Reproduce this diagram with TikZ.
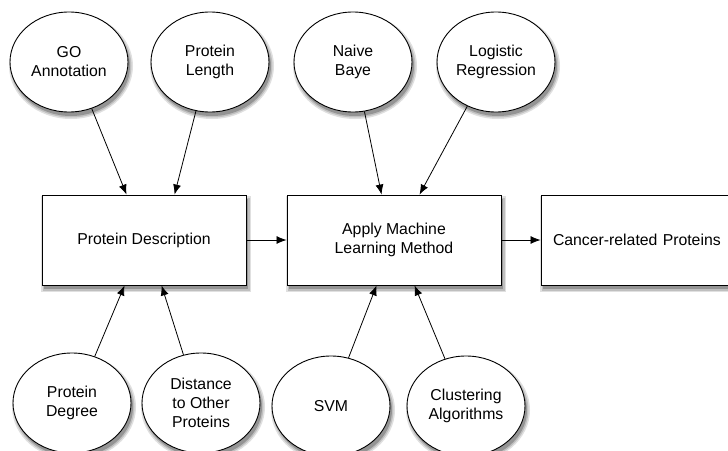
\documentclass[tikz,border=0pt]{standalone}
\usepackage{fontspec}
\setmainfont{Liberation Sans}
\usetikzlibrary{arrows.meta,shapes.geometric}
\definecolor{shA}{gray}{0.88}
\definecolor{shB}{gray}{0.75}
\definecolor{shC}{gray}{0.58}
\newcommand\ovalshade[2]{%
  \fill[shA] (#1+2,#2-4) ellipse (62 and 53);
  \fill[shB] (#1+2,#2-4) ellipse (60.5 and 51.5);
  \fill[shC] (#1+2,#2-4) ellipse (59 and 50);}
\newcommand\boxshade[4]{%
  \fill[shA] (#1-1,#2-7) rectangle (#3+5,#4-1);
  \fill[shB] (#1+0.5,#2-5.5) rectangle (#3+3.5,#4-2.5);
  \fill[shC] (#1+2,#2-4) rectangle (#3+2,#4-4);}
\begin{document}
\begin{tikzpicture}[x=1pt,y=1pt,
  lbl/.style={font=\fontsize{15.8}{19}\selectfont, align=center, text=black},
  oval/.style={lbl, ellipse, draw=black, line width=0.9pt, fill=white, minimum width=118pt, minimum height=100pt, inner sep=0pt},
  boxnode/.style={lbl, rectangle, draw=black, line width=0.9pt, fill=white, minimum height=90pt, inner sep=0pt},
  link/.style={line width=0.8pt, -{Latex[length=10pt,width=8pt]}}
]
\useasboundingbox (0,0) rectangle (728,-450);
\fill[white] (0,0) rectangle (728,-450);

\ovalshade{69}{-62}\ovalshade{210}{-62}\ovalshade{353}{-62}\ovalshade{496}{-62}
\ovalshade{72}{-403}\ovalshade{201}{-403}\ovalshade{331}{-406}\ovalshade{466}{-406}
\boxshade{42}{-285}{246}{-195}
\boxshade{287}{-285}{501}{-195}
\boxshade{541}{-285}{753}{-195}

\node[oval] (go) at (69,-62) {GO\\Annotation};
\node[oval] (len) at (210,-62) {Protein\\Length};
\node[oval] (nb) at (353,-62) {Naive\\Baye};
\node[oval] (lr) at (496,-62) {Logistic\\Regression};

\node[boxnode, minimum width=204pt] (pd) at (144,-240) {Protein Description};
\node[boxnode, minimum width=214pt] (ml) at (394,-240) {Apply Machine\\Learning Method};
\node[boxnode, minimum width=212pt, text width=188pt, align=left] (cp) at (647,-240) {Cancer-related Proteins};

\node[oval] (deg) at (72,-403) {Protein\\Degree};
\node[oval] (dist) at (201,-403) {Distance\\to Other\\Proteins};
\node[oval] (svm) at (331,-406) {SVM};
\node[oval] (cl) at (466,-406) {Clustering\\Algorithms};

\draw[link] (go.-64) -- ([xshift=85pt]pd.north west);
\draw[link] (len.-106) -- ([xshift=133pt]pd.north west);
\draw[link] (nb.-77) -- ([xshift=95pt]ml.north west);
\draw[link] (lr.-123) -- ([xshift=133pt]ml.north west);
\draw[link] (deg.64) -- ([xshift=83pt]pd.south west);
\draw[link] (dist.110) -- ([xshift=120pt]pd.south west);
\draw[link] (svm.70) -- ([xshift=90pt]ml.south west);
\draw[link] (cl.114) -- ([xshift=128pt]ml.south west);
\draw[link] (pd.east) -- (ml.west);
\draw[link] (ml.east) -- (cp.west);
\end{tikzpicture}
\end{document}
